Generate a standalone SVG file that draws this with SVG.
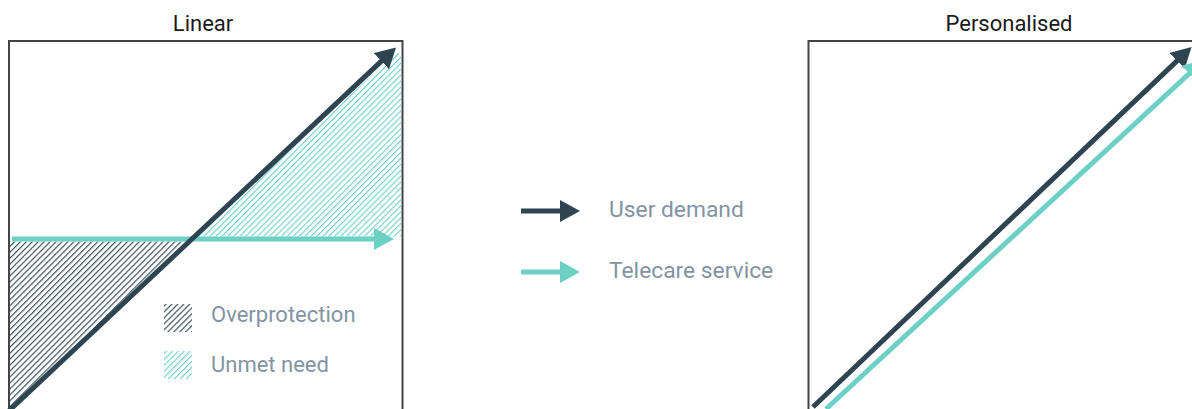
<svg xmlns="http://www.w3.org/2000/svg" width="1192" height="409" viewBox="0 0 1192 409">
<style>
.frame{fill:none;stroke:#444;stroke-width:2}
.title{font-family:Roboto,"Liberation Sans",sans-serif;font-size:22px;fill:#1a1a1a;text-anchor:middle}
.lbl{font-family:Roboto,"Liberation Sans",sans-serif;font-size:22.8px;fill:#8293a3}
.lbl2{font-family:Roboto,"Liberation Sans",sans-serif;font-size:22px;fill:#8293a3}
.dk{stroke:#2e4551;stroke-width:5;fill:none}
.tl{stroke:#6dd0c5;stroke-width:5;fill:none}
</style>
<defs>
<marker id="hd" markerUnits="userSpaceOnUse" markerWidth="20" markerHeight="22" refX="1" refY="11" orient="auto"><path d="M0,0 L20,11 L0,22 Z" fill="#2e4551"/></marker>
<marker id="ht" markerUnits="userSpaceOnUse" markerWidth="20" markerHeight="22" refX="1" refY="11" orient="auto"><path d="M0,0 L20,11 L0,22 Z" fill="#6dd0c5"/></marker>
<pattern id="pd" width="4.2" height="10" patternUnits="userSpaceOnUse" patternTransform="rotate(45)"><line x1="0.6" y1="0" x2="0.6" y2="10" stroke="#2e4551" stroke-width="1.1"/></pattern>
<pattern id="pt" width="4.2" height="10" patternUnits="userSpaceOnUse" patternTransform="rotate(45)"><line x1="0.6" y1="0" x2="0.6" y2="10" stroke="#6dd0c5" stroke-width="1.1"/></pattern>
</defs>

<g id="linear-panel">
<text class="title" x="203" y="31">Linear</text>
<rect class="frame" x="9" y="41" width="393.5" height="400"/>
</g>

<g id="overprotection-area">
<polygon points="10,241.5 189.3,241.5 10,409" fill="url(#pd)"/>
</g>
<g id="unmet-need-area">
<polygon points="196.5,236.5 401.5,236.5 401.5,55 397,52" fill="url(#pt)"/>
</g>

<g id="personalised-panel">
<text class="title" x="1009" y="31">Personalised</text>
<rect class="frame" x="808.5" y="41" width="400" height="400"/>
</g>

<g id="connectors">
<line class="tl" x1="12" y1="239" x2="375" y2="239" marker-end="url(#ht)"/>
<line class="dk" x1="8" y1="411.7" x2="382.2" y2="60.4" marker-end="url(#hd)"/>
<line class="dk" x1="813" y1="407" x2="1177.8" y2="60.1" marker-end="url(#hd)"/>
<line class="tl" x1="826" y1="409" x2="1190" y2="72.9" marker-end="url(#ht)"/>
</g>

<g id="legend-overprotection">
<rect x="164" y="304" width="28" height="28" fill="url(#pd)"/>
<text class="lbl2" x="211" y="322">Overprotection</text>
</g>
<g id="legend-unmet-need">
<rect x="164" y="351" width="28" height="28" fill="url(#pt)"/>
<text class="lbl2" x="211" y="371.5">Unmet need</text>
</g>
<g id="legend-user-demand">
<line class="dk" x1="521" y1="211" x2="561" y2="211" marker-end="url(#hd)"/>
<text class="lbl" x="609" y="217">User demand</text>
</g>
<g id="legend-telecare-service">
<line class="tl" x1="521" y1="272" x2="561" y2="272" marker-end="url(#ht)"/>
<text class="lbl" x="609" y="278">Telecare service</text>
</g>
</svg>
